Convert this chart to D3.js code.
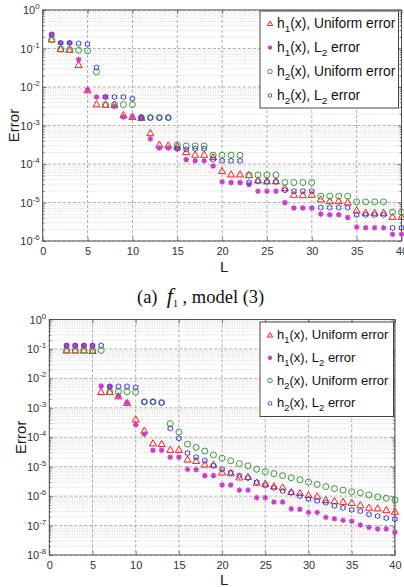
<!DOCTYPE html>
<html>
<head>
<meta charset="utf-8">
<script src="https://cdn.jsdelivr.net/npm/d3@7"></script>
<style>
  html, body { margin: 0; padding: 0; background: #fff; }
  svg { display: block; font-family: "Liberation Sans", Arial, sans-serif; }
</style>
</head>
<body>
<svg id="fig" width="404" height="587"></svg>
<script>
// ---- data: panel (a), f1, model (3) ----
const aL = [1,2,3,4,5,6,7,8,9,10,11,12,13,14,15,16,17,18,19,20,21,22,23,24,25,26,27,28,29,30,31,32,33,34,35,36,37,38,39,40];
const aH1Uniform = [0.174,0.098,0.094,0.038,0.0083,0.0036,0.0035,0.0035,0.0019,0.0017,0.0016,0.00064,0.00032,0.00031,0.00029,0.000206,0.000177,0.000177,0.000153,6.62e-5,5.43e-5,5.43e-5,5.2e-5,3.8e-5,3.6e-5,3.6e-5,2.4e-5,1.61e-5,1.57e-5,1.61e-5,1.22e-5,1.1e-5,1.1e-5,1.02e-5,6.3e-6,5.5e-6,5.5e-6,5.5e-6,4.3e-6,4.3e-6];
const aH1L2 = [0.23,0.14,0.14,0.052,0.0083,0.0055,0.0055,0.0031,0.00167,0.0017,0.0016,0.00045,0.00026,0.00026,0.00025,0.000131,0.000121,0.000121,8.9e-5,3.43e-5,3.31e-5,3.31e-5,2.95e-5,1.97e-5,1.97e-5,1.97e-5,1.0e-5,7.2e-6,7.2e-6,7.2e-6,5.0e-6,4.8e-6,4.8e-6,4.1e-6,2.3e-6,2.2e-6,2.2e-6,2.2e-6,1.5e-6,1.5e-6];
const aH2Uniform = [0.17,0.096,0.094,0.09,0.087,0.0247,0.0035,0.0035,0.0035,0.0035,0.0016,0.0016,0.0016,0.0016,0.00031,0.000295,0.000295,0.000295,0.00017,0.00017,0.00017,0.00017,5.2e-5,5.2e-5,5.2e-5,5.2e-5,3.31e-5,3.31e-5,3.31e-5,3.31e-5,1.46e-5,1.46e-5,1.46e-5,1.46e-5,1.04e-5,1.04e-5,1.04e-5,1.04e-5,5.6e-6,5.6e-6];
const aH2L2 = [0.23,0.14,0.14,0.135,0.13,0.032,0.0055,0.0055,0.0055,0.005,0.0016,0.0016,0.0016,0.0016,0.00025,0.000242,0.00025,0.00025,0.000131,0.000121,0.000121,0.000121,3.31e-5,3.55e-5,3.45e-5,3.45e-5,2.09e-5,1.97e-5,1.97e-5,1.97e-5,7.4e-6,7.4e-6,7.4e-6,7.4e-6,4.8e-6,4.8e-6,4.8e-6,4.8e-6,2.2e-6,2.2e-6];

// ---- data: second panel ----
const bL = [2,3,4,5,6,7,8,9,10,11,12,13,14,15,16,17,18,19,20,21,22,23,24,25,26,27,28,29,30,31,32,33,34,35,36,37,38,39,40];
const bH1Uniform = [0.09,0.09,0.09,0.087,0.0035,0.0035,0.0025,0.0015,0.00041,0.00017,6.3e-5,6.0e-5,3.8e-5,3.8e-5,1.78e-5,1.6e-5,1.2e-5,1.2e-5,6.5e-6,6.1e-6,4.4e-6,4.6e-6,2.9e-6,2.7e-6,2.2e-6,2.0e-6,1.4e-6,1.3e-6,1.1e-6,1.0e-6,7.4e-7,6.9e-7,6.5e-7,6.0e-7,5.0e-7,4.1e-7,3.9e-7,3.4e-7,3.0e-7];
const bH1L2 = [0.13,0.13,0.13,0.13,0.0055,0.0053,0.0025,0.0015,0.00027,0.000128,3.6e-5,3.6e-5,2.1e-5,2.1e-5,8.1e-6,7.9e-6,5.0e-6,5.0e-6,2.4e-6,2.4e-6,1.6e-6,1.6e-6,8.9e-7,8.9e-7,6.3e-7,6.3e-7,3.7e-7,3.6e-7,2.8e-7,2.8e-7,1.9e-7,1.7e-7,1.5e-7,1.4e-7,1.05e-7,8.7e-8,7.7e-8,7.7e-8,5.9e-8];
const bH2Uniform = [0.09,0.09,0.09,0.09,0.089,0.0035,0.0035,0.0035,0.0034,0.0016,0.0016,0.0015,0.00029,0.00015,5.8e-5,4.5e-5,3.4e-5,2.5e-5,1.94e-5,1.58e-5,1.27e-5,1.07e-5,8.2e-6,6.8e-6,5.8e-6,5.0e-6,4.2e-6,3.6e-6,3.0e-6,2.5e-6,2.1e-6,1.8e-6,1.6e-6,1.4e-6,1.3e-6,1.1e-6,9.4e-7,8.5e-7,7.4e-7];
const bH2L2 = [0.13,0.13,0.13,0.13,0.13,0.0053,0.0053,0.0053,0.005,0.0016,0.0016,0.0015,0.0002,9.2e-5,2.9e-5,2.1e-5,1.6e-5,1.07e-5,8.1e-6,6.3e-6,5.0e-6,4.1e-6,3.0e-6,2.3e-6,1.9e-6,1.5e-6,1.3e-6,1.0e-6,8.0e-7,6.9e-7,6.0e-7,4.7e-7,4.0e-7,3.4e-7,3.1e-7,2.4e-7,2.1e-7,1.8e-7,1.65e-7];

const xTicks = [0,5,10,15,20,25,30,35,40];
const aExponents = [0,-1,-2,-3,-4,-5,-6];
const bExponents = [0,-1,-2,-3,-4,-5,-6,-7,-8];

const seriesNames = ["Uniform error", "L2 error", "Uniform error", "L2 error"];
const seriesFuncs = ["1", "1", "2", "2"];

// ---- marker shapes ----
const COLORS = ["#ff1a1a", "#c83cc8", "#3a9a3a", "#3a3ad0"];
const KINDS = ["triangle", "asterisk", "circle", "hexagram"];
const SIZES = [3.4, 2.8, 3.0, 2.7];

function markerPath(kind, s) {
  if (kind === "triangle") {
    const h = s * 1.8, w = s * 1.05;
    return `M0,${-h*0.55}L${w},${h*0.45}L${-w},${h*0.45}Z`;
  }
  if (kind === "asterisk") {
    const r = s, d = s * 0.72;
    return `M0,${-r}L0,${r}M${-r},0L${r},0M${-d},${-d}L${d},${d}M${-d},${d}L${d},${-d}`;
  }
  // hexagram
  let p = "";
  for (let i = 0; i < 12; i++) {
    const ang = -Math.PI / 2 + i * Math.PI / 6;
    const rr = i % 2 === 0 ? s * 1.05 : s * 0.74;
    p += (i === 0 ? "M" : "L") + (rr * Math.cos(ang)).toFixed(2) + "," + (rr * Math.sin(ang)).toFixed(2);
  }
  return p + "Z";
}

function drawMarker(g, kind, color, x, y, s) {
  if (kind === "circle") {
    g.append("circle").attr("cx", x).attr("cy", y).attr("r", s)
      .attr("fill", "none").attr("stroke", color).attr("stroke-width", 1);
  } else {
    g.append("path").attr("d", markerPath(kind, s))
      .attr("transform", `translate(${x},${y})`)
      .attr("fill", "none").attr("stroke", color)
      .attr("stroke-width", kind === "asterisk" ? 1.3 : 1);
  }
}

const svg = d3.select("#fig");

function drawPanel(cfg) {
  const { left, right, top, bottom, L, series, exps, legend } = cfg;
  const x = d3.scaleLinear().domain([0, 40]).range([left, right]);
  const y = d3.scaleLog().domain([Math.pow(10, d3.min(exps)), 1]).range([bottom, top]);
  const g = svg.append("g");

  // minor grid (2..9 within each decade)
  const minorVals = [];
  exps.forEach(e => { if (e < 0) for (let k = 2; k <= 9; k++) minorVals.push(k * Math.pow(10, e)); });
  g.append("g").selectAll("line").data(minorVals).join("line")
    .attr("x1", left).attr("x2", right)
    .attr("y1", d => y(d)).attr("y2", d => y(d))
    .attr("stroke", "#c8c8c8").attr("stroke-width", 0.8).attr("stroke-dasharray", "1,1.5");

  // major grid
  const majorVals = exps.map(e => Math.pow(10, e));
  g.append("g").selectAll("line").data(majorVals).join("line")
    .attr("x1", left).attr("x2", right)
    .attr("y1", d => y(d)).attr("y2", d => y(d))
    .attr("stroke", "#9a9a9a").attr("stroke-width", 0.8).attr("stroke-dasharray", "3,2");
  g.append("g").selectAll("line").data(xTicks).join("line")
    .attr("x1", d => x(d)).attr("x2", d => x(d))
    .attr("y1", top).attr("y2", bottom)
    .attr("stroke", "#9a9a9a").attr("stroke-width", 0.8).attr("stroke-dasharray", "3,2");

  // axes with inward ticks
  const axB = d3.axisBottom(x).tickValues(xTicks).tickSize(-4).tickPadding(6).tickFormat(d3.format("d"));
  const axT = d3.axisTop(x).tickValues(xTicks).tickSize(-4).tickFormat("");
  const gB = g.append("g").attr("transform", `translate(0,${bottom})`).call(axB);
  const gT = g.append("g").attr("transform", `translate(0,${top})`).call(axT);
  const axL = d3.axisLeft(y).tickValues(majorVals).tickSize(-4).tickFormat("");
  const axR = d3.axisRight(y).tickValues(majorVals).tickSize(-4).tickFormat("");
  const gL = g.append("g").attr("transform", `translate(${left},0)`).call(axL);
  const gR = g.append("g").attr("transform", `translate(${right},0)`).call(axR);
  const axLm = d3.axisLeft(y).tickValues(minorVals).tickSize(-2).tickFormat("");
  const axRm = d3.axisRight(y).tickValues(minorVals).tickSize(-2).tickFormat("");
  const gLm = g.append("g").attr("transform", `translate(${left},0)`).call(axLm);
  const gRm = g.append("g").attr("transform", `translate(${right},0)`).call(axRm);
  [gB, gT, gL, gR, gLm, gRm].forEach(a => {
    a.select(".domain").remove();
    a.selectAll(".tick line").attr("stroke", "#555").attr("stroke-width", 0.7);
  });
  gB.selectAll(".tick text").attr("font-size", 11).attr("fill", "#333")
    .attr("font-family", "Liberation Sans, Arial, sans-serif");

  // y tick labels: 10^e
  const yl = g.append("g");
  exps.forEach(e => {
    const t = yl.append("text").attr("x", left - 3).attr("y", y(Math.pow(10, e)) + 4)
      .attr("text-anchor", "end").attr("font-size", 11).attr("fill", "#333");
    t.append("tspan").text("10");
    t.append("tspan").attr("font-size", 8).attr("dy", -5).text(String(e));
  });

  // frame
  g.append("rect").attr("x", left).attr("y", top)
    .attr("width", right - left).attr("height", bottom - top)
    .attr("fill", "none").attr("stroke", "#444").attr("stroke-width", 0.9);

  // data markers
  const pts = g.append("g");
  series.forEach((vals, si) => {
    vals.forEach((v, i) => drawMarker(pts, KINDS[si], COLORS[si], x(L[i]), y(v), SIZES[si]));
  });

  // axis titles
  g.append("text").attr("x", (left + right) / 2 + 2).attr("y", cfg.xTitleY)
    .attr("text-anchor", "middle").attr("font-size", 15).attr("fill", "#222").text("L");
  g.append("text").attr("transform", `translate(${cfg.yTitleX},${(top + bottom) / 2}) rotate(-90)`)
    .attr("text-anchor", "middle").attr("font-size", 15).attr("fill", "#222").text("Error");

  // legend
  const lg = g.append("g");
  lg.append("rect").attr("x", legend.x).attr("y", legend.y)
    .attr("width", legend.w).attr("height", legend.h)
    .attr("fill", "#fff").attr("stroke", "#333").attr("stroke-width", 0.9);
  seriesNames.forEach((name, i) => {
    const cy = legend.y + legend.first + i * legend.step;
    drawMarker(lg, KINDS[i], COLORS[i], legend.x + 10, cy, SIZES[i] * 0.75);
    const t = lg.append("text").attr("x", legend.x + 17).attr("y", cy + 4)
      .attr("font-size", legend.fs).attr("fill", "#111");
    t.append("tspan").text("h");
    t.append("tspan").attr("font-size", legend.fs * 0.72).attr("dy", 4).text(seriesFuncs[i]);
    t.append("tspan").attr("dy", -4).text("(x), ");
    if (name === "L2 error") {
      t.append("tspan").text("L");
      t.append("tspan").attr("font-size", legend.fs * 0.72).attr("dy", 4).text("2");
      t.append("tspan").attr("dy", -4).text(" error");
    } else {
      t.append("tspan").text(name);
    }
  });
}

drawPanel({
  left: 42.7, right: 401.5, top: 10, bottom: 241,
  L: aL, series: [aH1Uniform, aH1L2, aH2Uniform, aH2L2], exps: aExponents,
  xTitleY: 272, yTitleX: 19,
  legend: { x: 260, y: 11, w: 138.5, h: 97, first: 12.5, step: 24, fs: 13.8 }
});

drawPanel({
  left: 49.3, right: 394.9, top: 319.5, bottom: 555,
  L: bL, series: [bH1Uniform, bH1L2, bH2Uniform, bH2L2], exps: bExponents,
  xTitleY: 585, yTitleX: 26,
  legend: { x: 260, y: 322, w: 133.5, h: 94.5, first: 13, step: 22.8, fs: 13 }
});

// caption of panel (a)
const cap = svg.append("text").attr("x", 137).attr("y", 303)
  .style("font-family", "'Liberation Serif', 'Times New Roman', serif")
  .attr("font-size", 18.5).attr("fill", "#111");
cap.append("tspan").text("(a)\u00a0\u00a0");
cap.append("tspan").attr("font-style", "italic").attr("font-size", 22).text("f");
cap.append("tspan").attr("font-size", 10).attr("dy", 4).text("1");
cap.append("tspan").attr("dy", -4).text(" , model (3)");
</script>
</body>
</html>
